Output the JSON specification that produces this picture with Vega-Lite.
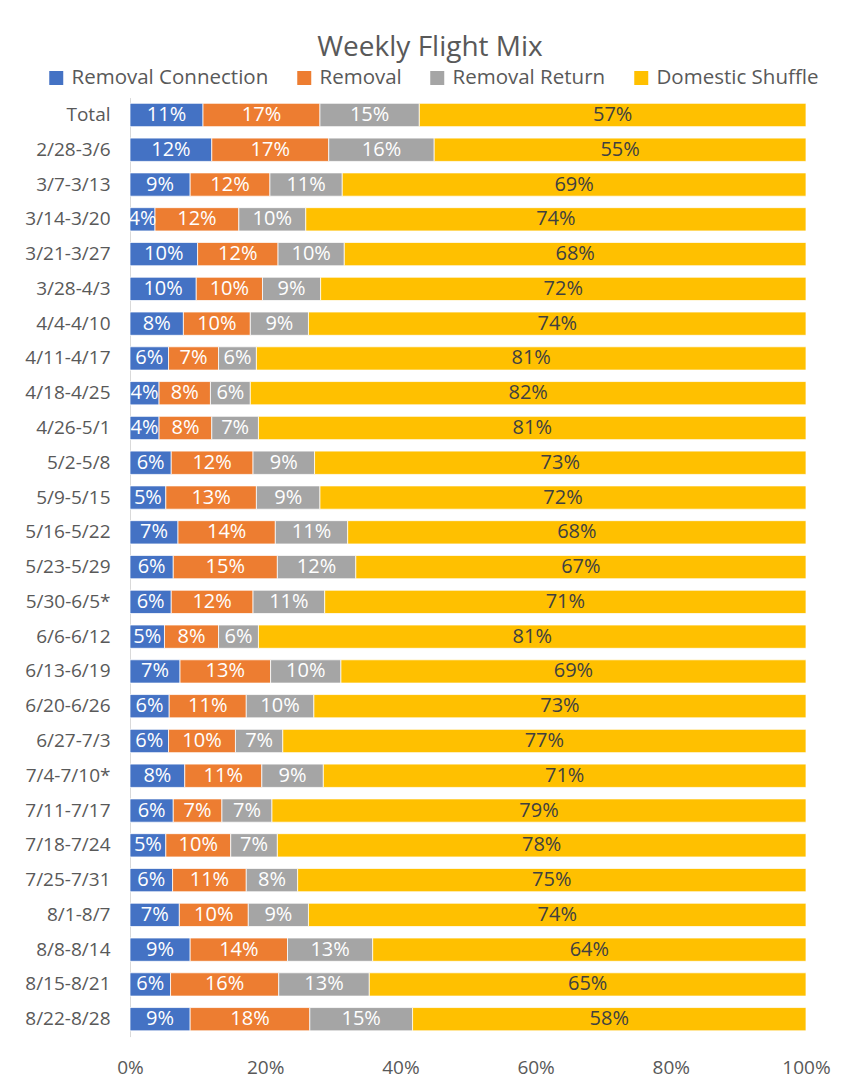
{
  "$schema": "https://vega.github.io/schema/vega-lite/v6.json",
  "width": 676,
  "height": 939,
  "autosize": {"type": "none"},
  "padding": {"left": 130, "top": 97.6, "right": 40, "bottom": 46.4},
  "background": "white",
  "title": {
    "text": "Weekly Flight Mix",
    "font": "Open Sans",
    "fontSize": 28,
    "fontWeight": "normal",
    "color": "#595959",
    "anchor": "middle",
    "frame": "group",
    "dx": -38,
    "offset": 6
  },
  "config": {
    "view": {"stroke": null},
    "font": "Open Sans"
  },
  "data": {
    "values": [
      {"week": "Total", "Removal Connection": 10.8, "Removal": 17.3, "Removal Return": 14.7, "Domestic Shuffle": 57.2},
      {"week": "2/28-3/6", "Removal Connection": 12.1, "Removal": 17.3, "Removal Return": 15.6, "Domestic Shuffle": 55.0},
      {"week": "3/7-3/13", "Removal Connection": 8.9, "Removal": 11.8, "Removal Return": 10.7, "Domestic Shuffle": 68.6},
      {"week": "3/14-3/20", "Removal Connection": 3.7, "Removal": 12.4, "Removal Return": 9.9, "Domestic Shuffle": 74.0},
      {"week": "3/21-3/27", "Removal Connection": 10.0, "Removal": 11.9, "Removal Return": 9.8, "Domestic Shuffle": 68.3},
      {"week": "3/28-4/3", "Removal Connection": 9.8, "Removal": 9.8, "Removal Return": 8.6, "Domestic Shuffle": 71.8},
      {"week": "4/4-4/10", "Removal Connection": 7.9, "Removal": 9.9, "Removal Return": 8.6, "Domestic Shuffle": 73.6},
      {"week": "4/11-4/17", "Removal Connection": 5.7, "Removal": 7.4, "Removal Return": 5.6, "Domestic Shuffle": 81.3},
      {"week": "4/18-4/25", "Removal Connection": 4.3, "Removal": 7.6, "Removal Return": 5.9, "Domestic Shuffle": 82.2},
      {"week": "4/26-5/1", "Removal Connection": 4.3, "Removal": 7.8, "Removal Return": 6.9, "Domestic Shuffle": 81.0},
      {"week": "5/2-5/8", "Removal Connection": 6.1, "Removal": 12.1, "Removal Return": 9.1, "Domestic Shuffle": 72.7},
      {"week": "5/9-5/15", "Removal Connection": 5.3, "Removal": 13.4, "Removal Return": 9.4, "Domestic Shuffle": 71.9},
      {"week": "5/16-5/22", "Removal Connection": 7.1, "Removal": 14.4, "Removal Return": 10.7, "Domestic Shuffle": 67.8},
      {"week": "5/23-5/29", "Removal Connection": 6.4, "Removal": 15.4, "Removal Return": 11.6, "Domestic Shuffle": 66.6},
      {"week": "5/30-6/5*", "Removal Connection": 6.1, "Removal": 12.1, "Removal Return": 10.6, "Domestic Shuffle": 71.2},
      {"week": "6/6-6/12", "Removal Connection": 5.1, "Removal": 8.0, "Removal Return": 5.9, "Domestic Shuffle": 81.0},
      {"week": "6/13-6/19", "Removal Connection": 7.4, "Removal": 13.4, "Removal Return": 10.4, "Domestic Shuffle": 68.8},
      {"week": "6/20-6/26", "Removal Connection": 5.8, "Removal": 11.4, "Removal Return": 10.0, "Domestic Shuffle": 72.8},
      {"week": "6/27-7/3", "Removal Connection": 5.7, "Removal": 9.9, "Removal Return": 7.0, "Domestic Shuffle": 77.4},
      {"week": "7/4-7/10*", "Removal Connection": 8.1, "Removal": 11.4, "Removal Return": 9.1, "Domestic Shuffle": 71.4},
      {"week": "7/11-7/17", "Removal Connection": 6.4, "Removal": 7.2, "Removal Return": 7.4, "Domestic Shuffle": 79.0},
      {"week": "7/18-7/24", "Removal Connection": 5.3, "Removal": 9.6, "Removal Return": 6.9, "Domestic Shuffle": 78.2},
      {"week": "7/25-7/31", "Removal Connection": 6.3, "Removal": 10.9, "Removal Return": 7.6, "Domestic Shuffle": 75.2},
      {"week": "8/1-8/7", "Removal Connection": 7.3, "Removal": 10.2, "Removal Return": 8.9, "Domestic Shuffle": 73.6},
      {"week": "8/8-8/14", "Removal Connection": 8.9, "Removal": 14.4, "Removal Return": 12.6, "Domestic Shuffle": 64.1},
      {"week": "8/15-8/21", "Removal Connection": 6.0, "Removal": 16.0, "Removal Return": 13.4, "Domestic Shuffle": 64.6},
      {"week": "8/22-8/28", "Removal Connection": 8.9, "Removal": 17.7, "Removal Return": 15.2, "Domestic Shuffle": 58.2}
    ]
  },
  "transform": [
    {"fold": ["Removal Connection", "Removal", "Removal Return", "Domestic Shuffle"], "as": ["category", "value"]},
    {"calculate": "indexof(['Removal Connection','Removal','Removal Return','Domestic Shuffle'], datum.category)", "as": "ord"},
    {"stack": "value", "groupby": ["week"], "sort": [{"field": "ord", "order": "ascending"}], "as": ["v0", "v1"]},
    {"calculate": "(datum.v0 + datum.v1) / 2", "as": "mid"},
    {"calculate": "format(datum.value, '.0f') + '%'", "as": "label"}
  ],
  "encoding": {
    "y": {
      "field": "week",
      "type": "nominal",
      "sort": ["Total", "2/28-3/6", "3/7-3/13", "3/14-3/20", "3/21-3/27", "3/28-4/3", "4/4-4/10", "4/11-4/17", "4/18-4/25", "4/26-5/1", "5/2-5/8", "5/9-5/15", "5/16-5/22", "5/23-5/29", "5/30-6/5*", "6/6-6/12", "6/13-6/19", "6/20-6/26", "6/27-7/3", "7/4-7/10*", "7/11-7/17", "7/18-7/24", "7/25-7/31", "8/1-8/7", "8/8-8/14", "8/15-8/21", "8/22-8/28"],
      "scale": {"paddingInner": 0.33, "paddingOuter": 0.165},
      "axis": {
        "title": null,
        "ticks": false,
        "domainColor": "#D9D9D9",
        "domainWidth": 1,
        "labelPadding": 20,
        "labelFont": "Open Sans",
        "labelFontSize": 19,
        "labelColor": "#595959"
      }
    }
  },
  "layer": [
    {
      "mark": {"type": "bar", "stroke": "white", "strokeWidth": 0.75},
      "encoding": {
        "x": {
          "field": "v0",
          "type": "quantitative",
          "scale": {"domain": [0, 100], "nice": false},
          "axis": {
            "title": null,
            "domain": false,
            "ticks": false,
            "grid": false,
            "values": [0, 20, 40, 60, 80, 100],
            "labelExpr": "datum.value + '%'",
            "labelFlush": false,
            "labelFont": "Open Sans",
            "labelFontSize": 19,
            "labelColor": "#595959",
            "labelPadding": 22
          }
        },
        "x2": {"field": "v1"},
        "color": {
          "field": "category",
          "type": "nominal",
          "scale": {
            "domain": ["Removal Connection", "Removal", "Removal Return", "Domestic Shuffle"],
            "range": ["#4472C4", "#ED7D31", "#A5A5A5", "#FFC000"]
          },
          "legend": {
            "title": null,
            "orient": "none",
            "direction": "horizontal",
            "legendX": -84,
            "legendY": -30,
            "padding": 0,
            "symbolType": "square",
            "symbolSize": 196,
            "symbolStrokeWidth": 0,
            "labelFont": "Open Sans",
            "labelFontSize": 20.5,
            "labelLimit": 0,
            "labelColor": "#595959",
            "labelOffset": 5,
            "columnPadding": 25
          }
        }
      }
    },
    {
      "mark": {"type": "text", "font": "Open Sans", "fontSize": 20, "align": "center", "baseline": "middle"},
      "encoding": {
        "x": {"field": "mid", "type": "quantitative"},
        "text": {"field": "label"},
        "color": {
          "condition": {"test": "datum.category === 'Domestic Shuffle'", "value": "#404040"},
          "value": "white"
        }
      }
    }
  ]
}
